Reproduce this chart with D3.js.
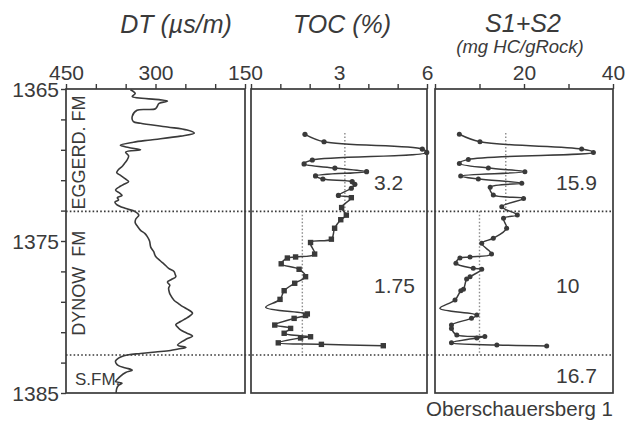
<!DOCTYPE html>
<html>
<head>
<meta charset="utf-8">
<script src="https://cdn.jsdelivr.net/npm/d3@7"></script>
<style>
  html, body { margin: 0; padding: 0; background: #fff; }
  svg { display: block; font-family: "Liberation Sans", Arial, sans-serif; }
</style>
</head>
<body>
<svg id="chart" width="632" height="423"></svg>
<script>
// Depth range of the log (m)
const depthDomain = [1365, 1385];
const depthTicks = [1365, 1367, 1369, 1371, 1373, 1375, 1377, 1379, 1381, 1383, 1385];
const depthLabels = [1365, 1375, 1385];

// Sonic log DT (µs/m)
const dtDomain = [450, 150];
const dtTicks = [450, 400, 350, 300, 250, 200, 150];
const dtLabels = [450, 300, 150];
const dtDepth = [1365.05, 1365.3, 1365.5, 1365.7, 1365.8, 1365.95, 1366.3, 1366.4, 1366.8, 1367.15,
  1367.25, 1367.5, 1367.7, 1367.9, 1368.1, 1368.35, 1368.5, 1368.7, 1368.85, 1369.0,
  1369.15, 1369.4, 1369.7, 1369.9, 1370.1, 1370.3, 1370.5, 1370.7, 1370.9, 1371.1,
  1371.25, 1371.4, 1371.65, 1371.85, 1372.0, 1372.15, 1372.3, 1372.45, 1372.6, 1372.85,
  1373.07, 1373.3, 1373.55, 1373.8, 1374.05, 1374.3, 1374.5, 1374.7, 1375.0, 1375.4,
  1375.7, 1376.0, 1376.3, 1376.5, 1376.8, 1377.0, 1377.2, 1377.35, 1377.55, 1377.7,
  1377.9, 1378.1, 1378.35, 1378.55, 1378.9, 1379.1, 1379.3, 1379.5, 1379.75, 1380.0,
  1380.1, 1380.3, 1380.5, 1380.7, 1380.85, 1381.05, 1381.25, 1381.45, 1381.6, 1381.85,
  1382.0, 1382.1, 1382.2, 1382.3, 1382.4, 1382.48, 1382.55, 1382.7, 1382.9, 1383.05,
  1383.2, 1383.35, 1383.5, 1383.65, 1383.9, 1384.1, 1384.25, 1384.35, 1384.5, 1384.7, 1385.0];
const dtValue = [342, 334, 339, 294, 280, 294, 300, 331, 339, 337,
  325, 280, 247, 235, 258, 308, 337, 359, 345, 325,
  350, 345, 348, 352, 356, 362, 365, 358, 351, 345,
  352, 359, 367, 360, 356, 364, 362, 368, 365, 351,
  334, 328, 333, 334, 330, 325, 318, 314, 310, 308,
  303, 300, 292, 286, 278, 269, 267, 266, 274, 280,
  276, 278, 277, 275, 269, 262, 255, 246, 238, 245,
  249, 258, 266, 262, 258, 248, 238, 248, 255, 263,
  249, 262, 275, 300, 325, 345, 353, 362, 367, 366,
  362, 350, 339, 350, 359, 364, 367, 356, 362, 365, 366];

// Total organic carbon (%); kind: "c" cuttings, "s" core, "" curve only
const tocDomain = [0, 6];
const tocTicks = [0, 1, 2, 3, 4, 5, 6];
const tocLabels = [3, 6];
const tocDepth = [1367.98, 1368.47, 1368.95, 1369.17, 1369.67, 1369.93, 1370.2, 1370.44, 1370.72, 1370.92,
  1371.1, 1371.27, 1371.53, 1372.0, 1372.15, 1372.8, 1373.3, 1373.6, 1374.16, 1374.88,
  1375.1, 1375.86, 1376.05, 1376.12, 1376.5, 1376.86, 1377.35, 1377.78, 1378.27, 1378.84,
  1379.36, 1379.8, 1379.9, 1380.09, 1380.53, 1380.75, 1381.07, 1381.3, 1381.38, 1381.7,
  1381.8, 1381.89];
const tocValue = [1.84, 2.49, 5.84, 5.99, 2.09, 1.81, 2.86, 3.94, 2.2, 2.45,
  3.45, 3.54, 3.42, 2.98, 3.42, 3.09, 3.25, 3.06, 2.85, 2.74,
  2.03, 2.17, 1.52, 1.24, 1.03, 1.64, 1.86, 1.49, 1.13, 0.99,
  0.5, 1.92, 1.86, 1.47, 0.81, 1.35, 1.13, 2.03, 1.69, 0.93,
  2.4, 4.51];
const tocKind = ["c", "c", "c", "c", "c", "c", "c", "c", "c", "c",
  "c", "c", "c", "c", "s", "s", "s", "s", "s", "s",
  "s", "s", "s", "s", "s", "s", "s", "s", "s", "s",
  "", "s", "s", "s", "s", "s", "s", "s", "s", "s",
  "s", "s"];

// Rock-Eval S1+S2 (mg HC/gRock)
const s12Domain = [0, 40];
const s12Ticks = [0, 10, 20, 30, 40];
const s12Labels = [20, 40];
const s12Depth = [1367.98, 1368.47, 1368.95, 1369.17, 1369.63, 1369.9, 1370.2, 1370.44, 1370.72, 1370.92,
  1371.2, 1371.46, 1371.97, 1372.2, 1372.74, 1373.29, 1373.5, 1374.16, 1374.82, 1375.15,
  1375.86, 1376.05, 1376.12, 1376.47, 1376.8, 1376.86, 1377.35, 1377.5, 1378.18, 1378.27,
  1378.88, 1379.43, 1379.87, 1380.09, 1380.53, 1380.75, 1381.18, 1381.29, 1381.38, 1381.7,
  1381.84, 1381.9];
const s12Value = [5.47, 10.1, 32.95, 35.6, 7.49, 5.47, 11.99, 20.2, 5.77, 9.74,
  19.5, 12.4, 13.1, 19.9, 15.0, 18.5, 15.4, 16.1, 13.1, 10.5,
  12.7, 7.87, 5.6, 4.7, 8.6, 10.5, 7.87, 7.1, 6.4, 5.8,
  4.5, 1.1, 9.4, 8.2, 3.7, 3.7, 4.9, 11.2, 9.4, 3.7,
  13.9, 25.1];
const s12Sampled = [1, 1, 1, 1, 1, 1, 1, 1, 1, 1,
  1, 1, 1, 1, 1, 1, 1, 1, 1, 1,
  1, 1, 1, 1, 1, 1, 1, 1, 1, 1,
  1, 0, 1, 1, 1, 1, 1, 1, 1, 1,
  1, 1];

// Formation boundaries (m) and unit averages
const boundaries = [1373.05, 1382.5];
const formations = ["EGGERD. FM", "DYNOW  FM", "S.FM."];
const zoneTop = [1367.9, 1373.05, 1382.5];
const zoneBase = [1373.05, 1382.5, 1385];
const tocMeans = [3.2, 1.75, null];
const s12Means = [15.9, 10, 16.7];

const ink = "#3a3a3a";
const svg = d3.select("#chart");

const y = d3.scaleLinear().domain(depthDomain).range([89, 393]);
const xDT = d3.scaleLinear().domain(dtDomain).range([66, 245]);
const xTOC = d3.scaleLinear().domain(tocDomain).range([251, 427]);
const xS12 = d3.scaleLinear().domain(s12Domain).range([435, 613]);

// Track frames with top axes
function track(x, ticks, labels) {
  const [x0, x1] = x.range();
  svg.append("rect")
    .attr("x", x0).attr("y", y(depthDomain[0]))
    .attr("width", x1 - x0).attr("height", y(depthDomain[1]) - y(depthDomain[0]))
    .attr("fill", "none").attr("stroke", ink).attr("stroke-width", 1.7);
  const ax = svg.append("g")
    .attr("transform", `translate(0,${y(depthDomain[0])})`)
    .call(d3.axisTop(x).tickValues(ticks).tickSize(5).tickPadding(4)
      .tickFormat(d => labels.includes(d) ? String(d) : ""));
  ax.select(".domain").remove();
  ax.selectAll("line").attr("stroke", ink).attr("stroke-width", 1.4);
  ax.selectAll("text").attr("fill", ink).attr("font-size", 21)
    .attr("font-family", "Liberation Sans, Arial, sans-serif");
}
track(xDT, dtTicks, dtLabels);
track(xTOC, tocTicks, tocLabels);
track(xS12, s12Ticks, s12Labels);

// Depth axis
const depthAxis = svg.append("g")
  .attr("transform", `translate(${xDT.range()[0]},0)`)
  .call(d3.axisLeft(y).tickValues(depthTicks).tickSize(5).tickPadding(2)
    .tickFormat(d => depthLabels.includes(d) ? String(d) : ""));
depthAxis.select(".domain").remove();
depthAxis.selectAll("line").attr("stroke", ink).attr("stroke-width", 1.4);
depthAxis.selectAll("text").attr("fill", ink).attr("font-size", 21)
  .attr("dy", "0.36em")
  .attr("font-family", "Liberation Sans, Arial, sans-serif");

// Track titles
const titles = [
  { t: "DT (\u00b5s/m)", x: 176, y: 33, s: 25 },
  { t: "TOC (%)", x: 342, y: 33, s: 25 },
  { t: "S1+S2", x: 523, y: 32, s: 25 },
  { t: "(mg HC/gRock)", x: 520, y: 53, s: 18.5 }
];
svg.selectAll("text.title").data(titles).join("text")
  .attr("class", "title")
  .attr("x", d => d.x).attr("y", d => d.y)
  .attr("text-anchor", "middle").attr("font-style", "italic")
  .attr("font-size", d => d.s).attr("fill", ink)
  .text(d => d.t);

// Formation boundaries across all tracks
svg.selectAll("line.boundary").data(boundaries).join("line")
  .attr("class", "boundary")
  .attr("x1", xDT.range()[0]).attr("x2", xS12.range()[1])
  .attr("y1", d => y(d)).attr("y2", d => y(d))
  .attr("stroke", ink).attr("stroke-width", 1.6).attr("stroke-dasharray", "1.6,2.2");

// Unit averages as vertical dotted lines
function meanLines(x, means) {
  means.forEach((m, i) => {
    if (m == null || i > 1) return;
    svg.append("line")
      .attr("x1", x(m)).attr("x2", x(m))
      .attr("y1", y(zoneTop[i])).attr("y2", y(zoneBase[i]))
      .attr("stroke", "#8a8a8a").attr("stroke-width", 1.4).attr("stroke-dasharray", "1.5,2");
  });
}
meanLines(xTOC, tocMeans);
meanLines(xS12, s12Means);

// Unit average labels
const labelY = [190, 293, 383];
tocMeans.forEach((m, i) => {
  if (m == null) return;
  svg.append("text").attr("x", 374).attr("y", labelY[i])
    .attr("font-size", 21).attr("fill", ink).text(String(m));
});
s12Means.forEach((m, i) => {
  svg.append("text").attr("x", 556).attr("y", labelY[i])
    .attr("font-size", 21).attr("fill", ink).text(String(m));
});

// DT curve
const dtLine = d3.line()
  .x((d, i) => xDT(dtValue[i])).y((d, i) => y(dtDepth[i]))
  .curve(d3.curveCatmullRom.alpha(0.5));
svg.append("path").datum(dtDepth)
  .attr("d", dtLine).attr("fill", "none").attr("stroke", ink).attr("stroke-width", 1.6);

// TOC curve and samples
const tocLine = d3.line()
  .x((d, i) => xTOC(tocValue[i])).y((d, i) => y(tocDepth[i]))
  .curve(d3.curveCatmullRom.alpha(0.5));
svg.append("path").datum(tocDepth)
  .attr("d", tocLine).attr("fill", "none").attr("stroke", ink).attr("stroke-width", 1.5);
const tocPts = tocDepth.map((d, i) => ({ d, v: tocValue[i], k: tocKind[i] }));
svg.selectAll("circle.toc").data(tocPts.filter(p => p.k === "c")).join("circle")
  .attr("class", "toc")
  .attr("cx", p => xTOC(p.v)).attr("cy", p => y(p.d)).attr("r", 2.6).attr("fill", ink);
svg.selectAll("rect.toc").data(tocPts.filter(p => p.k === "s")).join("rect")
  .attr("class", "toc")
  .attr("x", p => xTOC(p.v) - 2.7).attr("y", p => y(p.d) - 2.7)
  .attr("width", 5.4).attr("height", 5.4).attr("fill", ink);

// S1+S2 curve and samples
const s12Line = d3.line()
  .x((d, i) => xS12(s12Value[i])).y((d, i) => y(s12Depth[i]))
  .curve(d3.curveCatmullRom.alpha(0.5));
svg.append("path").datum(s12Depth)
  .attr("d", s12Line).attr("fill", "none").attr("stroke", ink).attr("stroke-width", 1.5);
const s12Pts = s12Depth.map((d, i) => ({ d, v: s12Value[i], on: s12Sampled[i] }));
svg.selectAll("circle.s12").data(s12Pts.filter(p => p.on)).join("circle")
  .attr("class", "s12")
  .attr("cx", p => xS12(p.v)).attr("cy", p => y(p.d)).attr("r", 2.5).attr("fill", ink);

// Formation names
const fmG = svg.append("g").attr("fill", ink).attr("font-size", 18);
fmG.append("text")
  .attr("transform", `translate(85,${y((1365.3 + zoneBase[0]) / 2)}) rotate(-90)`)
  .attr("text-anchor", "middle").text(formations[0]);
fmG.append("text")
  .attr("transform", `translate(85,${y((zoneTop[1] + zoneBase[1]) / 2)}) rotate(-90)`)
  .attr("text-anchor", "middle").attr("xml:space", "preserve")
  .style("white-space", "pre").text(formations[1]);
fmG.append("text")
  .attr("x", 75).attr("y", 385).attr("font-size", 17).text(formations[2]);

// Well name
svg.append("text").attr("x", 613).attr("y", 416)
  .attr("text-anchor", "end").attr("font-size", 20.5).attr("fill", ink)
  .text("Oberschauersberg 1");
</script>
</body>
</html>
